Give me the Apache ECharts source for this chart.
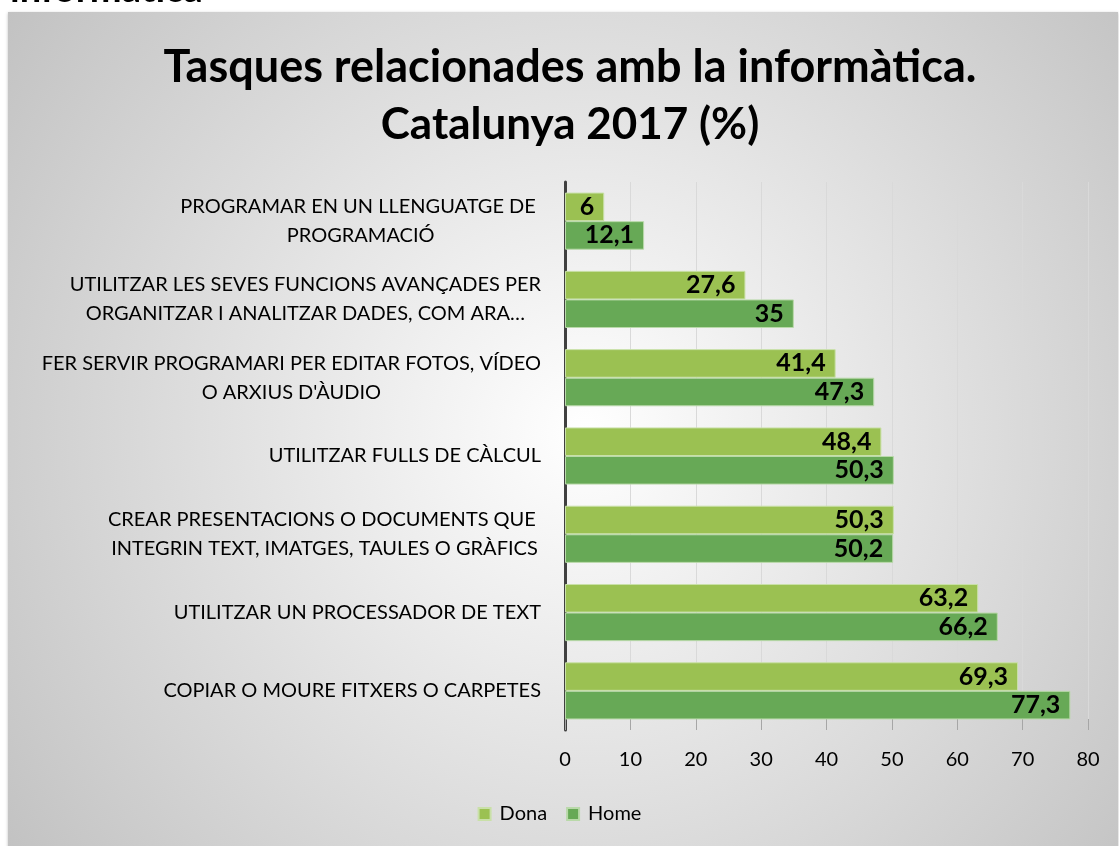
<!DOCTYPE html>
<html><head><meta charset="utf-8">
<script src="https://cdn.jsdelivr.net/npm/echarts@6/dist/echarts.min.js"></script>
<style>html,body{margin:0;padding:0;background:#fff}#c{width:1119px;height:846px}</style>
</head><body><div id="c"></div>
<script>
const categories = [
  ["PROGRAMAR EN UN LLENGUATGE DE ", "PROGRAMACIÓ"],
  ["UTILITZAR LES SEVES FUNCIONS AVANÇADES PER", "ORGANITZAR I ANALITZAR DADES, COM ARA…"],
  ["FER SERVIR PROGRAMARI PER EDITAR FOTOS, VÍDEO", "O ARXIUS D'ÀUDIO"],
  ["UTILITZAR FULLS DE CÀLCUL"],
  ["CREAR PRESENTACIONS O DOCUMENTS QUE ", "INTEGRIN TEXT, IMATGES, TAULES O GRÀFICS"],
  ["UTILITZAR UN PROCESSADOR DE TEXT"],
  ["COPIAR O MOURE FITXERS O CARPETES"]
];
const dona = [6, 27.6, 41.4, 48.4, 50.3, 63.2, 69.3];
const home = [12.1, 35, 47.3, 50.3, 50.2, 66.2, 77.3];
const seriesNames = ["Dona", "Home"];
const titleLines = ["Tasques relacionades amb la informàtica.", "Catalunya 2017 (%)"];
const headerText = "informàtica";

const FONT = "Lato";
const catLabels = categories.map(l => l.join("\n"));
const chart = echarts.init(document.getElementById('c'), null, {renderer: 'canvas'});
const fmt = p => String(p.value).replace('.', ',');
const labelCfg = {show: true, position: 'insideRight', distance: 10, color: '#000', fontFamily: FONT, fontWeight: 'bold', fontSize: 25, formatter: fmt};
chart.setOption({
  animation: false,
  backgroundColor: '#ffffff',
  graphic: [
    {type: 'text', left: 10, top: -29, z: -20, style: {text: headerText, font: 'bold 38px ' + FONT, fill: '#000'}},
    {type: 'rect', shape: {x: 8, y: 12, width: 1110, height: 840}, z: -10, silent: true,
     style: {fill: {type: 'radial', x: 0.52, y: 0.5, r: 0.85, colorStops: [{offset: 0, color: '#ffffff'}, {offset: 1, color: '#c2c2c2'}]},
             shadowBlur: 3, shadowColor: 'rgba(0,0,0,0.25)', shadowOffsetY: 1}},
    {type: 'text', x: 570, y: 67, z: 10, style: {text: titleLines[0], font: 'bold 45px ' + FONT, fill: '#000', textAlign: 'center', textVerticalAlign: 'middle'}},
    {type: 'text', x: 570, y: 125, z: 10, style: {text: titleLines[1], font: 'bold 44px ' + FONT, fill: '#000', textAlign: 'center', textVerticalAlign: 'middle'}}
  ],
  legend: {
    data: seriesNames, bottom: 17, left: 'center', itemWidth: 12, itemHeight: 12, itemGap: 19,
    icon: 'rect', textStyle: {fontFamily: FONT, fontSize: 20, color: '#000', padding: [0, 0, 0, 4]}
  },
  grid: {left: 565, right: 31, top: 182, bottom: 116, containLabel: false},
  xAxis: {
    type: 'value', min: 0, max: 80, interval: 10,
    axisLine: {show: false},
    axisTick: {show: true, inside: true, length: 11, lineStyle: {color: '#a6a6a6', width: 1}},
    splitLine: {show: true, lineStyle: {color: '#d9d9d9', width: 1}},
    axisLabel: {fontFamily: FONT, fontSize: 20, color: '#000', margin: 20}
  },
  yAxis: {
    type: 'category', data: catLabels, inverse: true,
    axisLine: {show: true, lineStyle: {color: '#404040', width: 3}},
    axisTick: {show: false},
    axisLabel: {
      margin: 24, color: '#000', fontFamily: FONT, fontSize: 20, lineHeight: 29,
      formatter: v => v.split('\n').map(s => '{c|' + s + '}').join('\n'),
      rich: {c: {align: 'center', fontFamily: FONT, fontSize: 20, lineHeight: 29, color: '#000'}}
    }
  },
  series: [
    {name: seriesNames[0], type: 'bar', data: dona, barGap: '0%', barCategoryGap: '27%',
     itemStyle: {color: '#9bc152', borderColor: '#c9e0a8', borderWidth: 1}, label: labelCfg, z: 5},
    {name: seriesNames[1], type: 'bar', data: home, barGap: '0%', barCategoryGap: '27%',
     itemStyle: {color: '#67a956', borderColor: '#b9d9a9', borderWidth: 1}, label: labelCfg, z: 5}
  ]
});
</script></body></html>
